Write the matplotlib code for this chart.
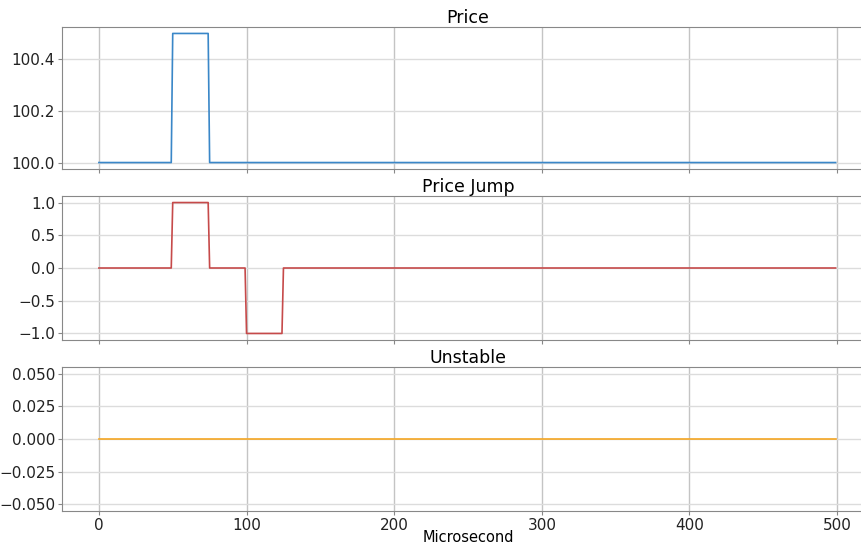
import matplotlib.pyplot as plt
import numpy as np

# sample index (microseconds)
t = np.arange(0, 500)

# piecewise-constant segments: (start, value)
price_starts = [0, 50, 75]
price_levels = [100.0, 100.5, 100.0]

jump_starts = [0, 50, 75, 100, 125]
jump_levels = [0, 1, 0, -1, 0]

unstable_starts = [0]
unstable_levels = [0]


def expand(starts, levels, n=len(t)):
    ends = starts[1:] + [n]
    return np.repeat(levels, [e - s for s, e in zip(starts, ends)])


price = expand(price_starts, price_levels)
jump = expand(jump_starts, jump_levels)
unstable = expand(unstable_starts, unstable_levels)

plt.rcParams['font.family'] = 'DejaVu Sans'
plt.rcParams['font.size'] = 11

fig = plt.figure(figsize=(8.62, 5.44), dpi=100)
left, width = 62 / 862, 812 / 862
rows = [(27, 169), (196, 340), (367, 511)]
axes = []
for top, bot in rows:
    ax = fig.add_axes([left, 1 - bot / 544, width, (bot - top) / 544],
                      sharex=axes[0] if axes else None)
    axes.append(ax)

series = [(price, '#3a87c8', 'Price'),
          (jump, '#c64a4a', 'Price Jump'),
          (unstable, '#f5a623', 'Unstable')]

for ax, (y, c, title) in zip(axes, series):
    ax.plot(t, y, color=c, lw=1.2)
    ax.set_title(title, fontsize=12.5, pad=3)
    ax.grid(axis='x', color='#c4c4c4', lw=1)
    ax.grid(axis='y', color='#dcdcdc', lw=1)
    for s in ax.spines.values():
        s.set_color('#888888')
    ax.tick_params(colors='#222222', length=3, color='#888888', pad=2)

axes[0].set_xlim(-25, 525)
axes[0].set_yticks([100.0, 100.2, 100.4])
axes[1].set_yticks([-1.0, -0.5, 0.0, 0.5, 1.0])
axes[2].set_ylim(-0.055, 0.055)
axes[2].set_yticks([-0.05, -0.025, 0.0, 0.025, 0.05])
for ax in axes[:2]:
    ax.tick_params(labelbottom=False)
axes[2].set_xticks([0, 100, 200, 300, 400, 500])
axes[2].set_xlabel('Microsecond', fontsize=10.5, va='center')
axes[2].xaxis.set_label_coords(0.5, -26 / 144)

fig.savefig('out.png', dpi=100)
